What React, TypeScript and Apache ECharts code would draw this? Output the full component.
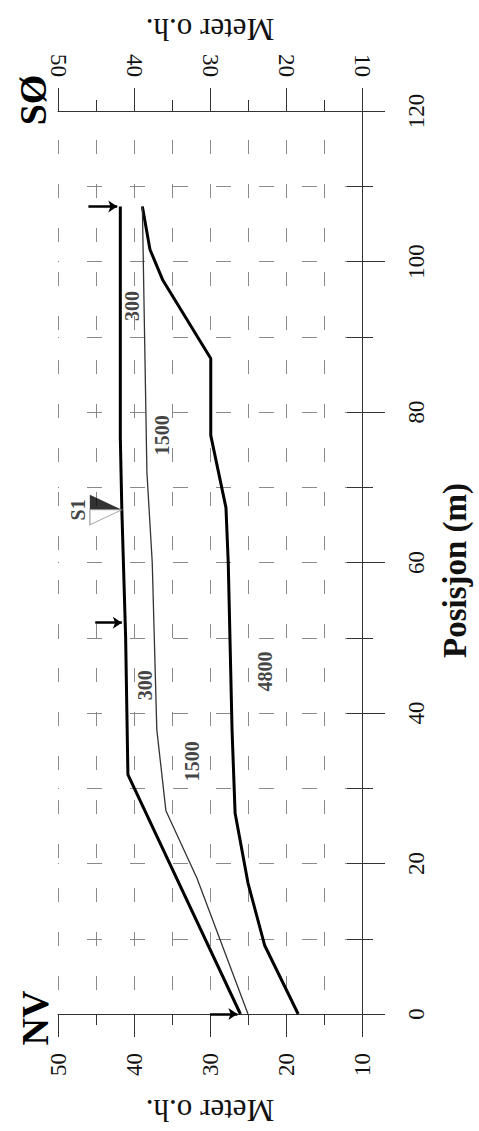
import React, { useEffect, useRef } from "react";
import * as echarts from "echarts";

const FONT = "'Liberation Serif', 'Times New Roman', serif";

// Profile points as [posisjon (m), meter o.h.]
const surface: number[][] = [
  [0, 26.0], [31.8, 40.8], [50, 41.1], [67, 41.6], [76.5, 41.8], [107.3, 41.8],
];
const boundary300: number[][] = [
  [0, 25.0], [18, 31.7], [27, 35.8], [37.8, 37.0], [60, 37.6], [72, 38.3], [107.3, 38.9],
];
const boundary1500: number[][] = [
  [0, 18.4], [9.1, 22.8], [17.4, 25.0], [26.7, 26.7], [37.8, 27.1], [60, 27.6],
  [67.3, 27.9], [76.9, 29.9], [87.1, 29.9], [97.5, 36.2], [101.6, 37.9], [107.3, 38.9],
];
// arrows: [posisjon, from meter, to meter]
const arrows: number[][] = [
  [0, 30.0, 26.4],
  [52, 45.1, 41.6],
  [107.3, 46.0, 42.2],
];
// velocity labels: [text, posisjon, meter]
const layerLabels: [string, number, number][] = [
  ["300", 94.1, 40.3],
  ["1500", 76.9, 36.3],
  ["300", 43.7, 38.6],
  ["1500", 33.6, 32.4],
  ["4800", 45.5, 22.8],
];
const sensorName = "S1";
const sensorPos = 67;
const sensorMeter = 41.6;
const sensorLabelMeter = 47.4;

const meterMin = 10;
const meterMax = 50;
const meterStep = 10;
const posMin = 0;
const posMax = 120;
const posStep = 20;

const toXY = (pts: number[][]) => pts.map(([p, m]) => [m, p]);

export default function App() {
  const ref = useRef<HTMLDivElement>(null);
  useEffect(() => {
    if (!ref.current) return;
    const chart = echarts.init(ref.current, null, { renderer: "svg" });
    const axisColor = "#333";
    const gridColor = "#8a8a8a";
    const vDash = { color: gridColor, width: 1, type: [14, 30], dashOffset: 15 };
    const hDash = { color: gridColor, width: 1, type: [15, 28], dashOffset: 14 };
    const labelFont = { fontFamily: FONT, fontSize: 23, color: "#111" };
    const nameFont = { fontFamily: FONT, fontSize: 31, color: "#111" };

    const meterAxisBase = {
      type: "value",
      inverse: true,
      min: meterMin,
      max: meterMax,
      interval: meterStep,
      axisLine: { show: true, onZero: false, lineStyle: { color: axisColor, width: 1 } },
      axisTick: { show: true, length: 23, lineStyle: { color: axisColor } },
      minorTick: { show: true, splitNumber: 2, length: 11, lineStyle: { color: axisColor } },
      name: "Meter o.h.",
      nameLocation: "middle",
      nameRotate: 180,
      nameTextStyle: nameFont,
    };

    const option: any = {
      animation: false,
      backgroundColor: "#fff",
      textStyle: { fontFamily: FONT },
      grid: { left: 58, right: 117, top: 111, bottom: 112, containLabel: false },
      xAxis: [
        {
          ...meterAxisBase,
          position: "bottom",
          nameGap: 81,
          axisLabel: { ...labelFont, rotate: 90, margin: 39 },
          splitLine: { show: true, lineStyle: vDash },
          minorSplitLine: { show: true, lineStyle: vDash },
        },
        {
          ...meterAxisBase,
          position: "top",
          nameGap: 66,
          axisLabel: { ...labelFont, rotate: 90, margin: 34 },
          splitLine: { show: false },
          minorSplitLine: { show: false },
        },
      ],
      yAxis: [
        {
          type: "value",
          position: "right",
          min: posMin,
          max: posMax,
          interval: posStep,
          axisLine: { show: true, onZero: false, lineStyle: { color: axisColor, width: 1 } },
          axisTick: { show: true, length: 23, lineStyle: { color: axisColor } },
          minorTick: { show: true, splitNumber: 2, length: 11, lineStyle: { color: axisColor } },
          axisLabel: { ...labelFont, rotate: 90, margin: 43 },
          splitLine: { show: true, lineStyle: hDash },
          minorSplitLine: { show: true, lineStyle: hDash },
          name: "Posisjon (m)",
          nameLocation: "middle",
          nameRotate: 90,
          nameGap: 76,
          nameTextStyle: { ...nameFont, fontSize: 33, fontWeight: "bold", padding: [0, 16, 0, 0] },
        },
        {
          type: "value",
          position: "right",
          min: posMin,
          max: posMax,
          interval: posStep / 2,
          axisLine: { show: false, onZero: false },
          axisTick: { show: true, inside: true, length: 15, lineStyle: { color: axisColor } },
          axisLabel: { show: false },
          splitLine: { show: false },
        },
      ],
      graphic: [
        {
          type: "text",
          x: 35,
          y: 1018,
          rotation: Math.PI / 2,
          style: {
            text: "NV",
            fontFamily: FONT,
            fontSize: 38,
            fontWeight: "bold",
            fill: "#000",
            align: "center",
            verticalAlign: "middle",
          },
        },
        {
          type: "text",
          x: 33,
          y: 100,
          rotation: Math.PI / 2,
          style: {
            text: "SØ",
            fontFamily: FONT,
            fontSize: 38,
            fontWeight: "bold",
            fill: "#000",
            align: "center",
            verticalAlign: "middle",
          },
        },
      ],
      series: [
        {
          type: "line",
          name: "1500/4800",
          data: toXY(boundary1500),
          symbol: "none",
          clip: false,
          lineStyle: { color: "#000", width: 3 },
          z: 3,
        },
        {
          type: "line",
          name: "300/1500",
          data: toXY(boundary300),
          symbol: "none",
          clip: false,
          lineStyle: { color: "#333", width: 1.3 },
          z: 3,
        },
        {
          type: "line",
          name: "Overflate",
          data: toXY(surface),
          symbol: "none",
          clip: false,
          lineStyle: { color: "#000", width: 3 },
          z: 4,
        },
        {
          type: "lines",
          coordinateSystem: "cartesian2d",
          clip: false,
          symbol: ["none", "arrow"],
          symbolSize: 9,
          lineStyle: { color: "#000", width: 2.5, opacity: 1 },
          data: arrows.map(([p, m1, m2]) => ({ coords: [[m1, p], [m2, p]] })),
          z: 5,
        },
        {
          type: "scatter",
          name: sensorName,
          z: 6,
          data: [
            {
              value: [sensorMeter, sensorPos],
              symbol: "path://M0,0 L32,15 L0,15 Z",
              symbolSize: [32, 15],
              symbolOffset: [-16, -7.5],
              itemStyle: { color: "#000" },
            },
            {
              value: [sensorMeter, sensorPos],
              symbol: "path://M0,0 L32,0 L0,15 Z",
              symbolSize: [32, 15],
              symbolOffset: [-16, 7.5],
              itemStyle: { color: "#fff", borderColor: "#999", borderWidth: 1 },
            },
          ],
        },
        {
          type: "scatter",
          name: "labels",
          z: 7,
          symbolSize: 1,
          itemStyle: { color: "rgba(0,0,0,0)" },
          label: {
            show: true,
            position: "inside",
            rotate: 90,
            formatter: (p: any) => p.name,
            fontFamily: FONT,
            fontSize: 20,
            fontWeight: "bold",
            color: "#111",
          },
          data: [
            ...layerLabels.map(([t, p, m]) => ({ name: t, value: [m, p] })),
            { name: sensorName, value: [sensorLabelMeter, sensorPos] },
          ],
        },
      ],
    };
    chart.setOption(option);
    return () => chart.dispose();
  }, []);
  return (
    <div
      ref={ref}
      style={{ position: "absolute", left: 0, top: 0, width: 479, height: 1131, background: "#fff" }}
    />
  );
}
